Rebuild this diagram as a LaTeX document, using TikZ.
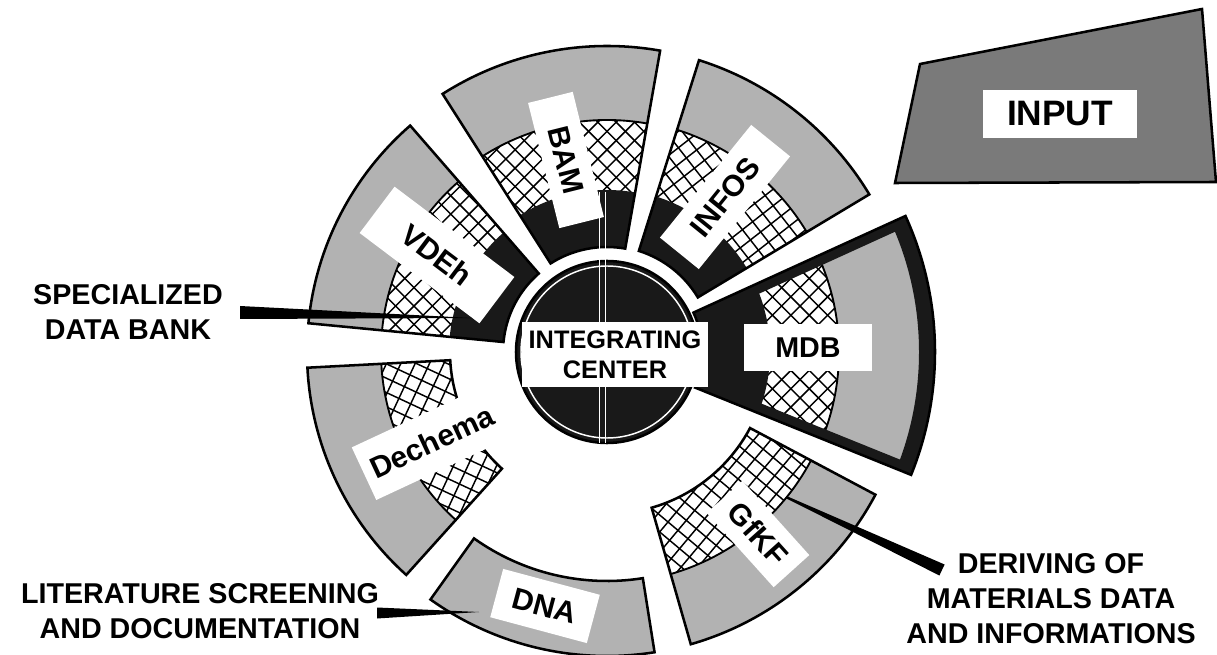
\documentclass[tikz,border=0pt]{standalone}
\usepackage{fontspec}
\setmainfont{Liberation Sans}
\usetikzlibrary{calc}
\newcommand\secpath[4]{(#1:#3) arc[start angle=#1,end angle=#2,radius=#3] -- (#2:#4) arc[start angle=#2,end angle=#1,radius=#4] -- cycle}
\newcommand\drawsector[7]{%
  \begin{scope}
    \clip \secpath{#1}{#2}{#3}{#6};
    \fill[dotfill] (0,0) circle[radius=#6];
    \begin{scope}
      \clip (0,0) circle[radius=#5];
      \fill[white] (0,0) circle[radius=#5];
      \begin{scope}[rotate=#7]
        \foreach \k in {-26,...,26}{
          \draw[gridline] (\k*13,-340) -- (\k*13,340);
          \draw[gridline] (-340,\k*13) -- (340,\k*13);
        }
      \end{scope}
    \end{scope}
    \fill[darkfill] (0,0) circle[radius=#4];
  \end{scope}}
\newcommand\ringarc[3]{\draw[bline] (#1:#3) arc[start angle=#1,end angle=#2,radius=#3];}
\tikzset{
  outline/.style={draw=black, line width=1.9pt},
  bline/.style={draw=black, line width=1.4pt},
  dotfill/.style={fill=black!30},
  darkfill/.style={fill=black!90},
  gridline/.style={draw=black, line width=1.1pt},
  labelbox/.style={fill=white, inner sep=0pt, font=\bfseries\fontsize{22.5pt}{26pt}\selectfont},
  sidetext/.style={align=center, inner sep=0pt, anchor=north, font=\bfseries\fontsize{21.5pt}{26.25pt}\selectfont},
  leader/.style={fill=black},
}
\begin{document}
\begin{tikzpicture}[x=0.75pt,y=-0.75pt]
\useasboundingbox (0,0) rectangle (1217,655);
\fill[white] (0,0) rectangle (1217,655);

% ---------- wheel ----------
\begin{scope}[shift={(607,352)}, yscale=-1]
  % MDB
  \drawsector{-22}{24.5}{95}{163}{232}{328}{45}
  \begin{scope}
    \clip \secpath{-22}{24.5}{95}{328};
    \ringarc{-22}{24.5}{232}
    \fill[darkfill, even odd rule] (0,0) circle[radius=330] (0,0) circle[radius=312];
    \draw[draw=black!90, line width=15pt] (-22:95) -- (-22:335) (24.5:95) -- (24.5:335);
  \end{scope}
  \draw[outline] \secpath{-22}{24.5}{95}{328};
  % INFOS
  \drawsector{31}{72.5}{106}{163}{233}{306}{52}
  \ringarc{31}{72.5}{233}
  \draw[outline] \secpath{31}{72.5}{106}{306};
  % BAM
  \drawsector{80}{122.5}{105}{162}{232}{306}{45}
  \ringarc{80}{122.5}{232}
  \draw[outline] \secpath{80}{122.5}{105}{306};
  % VDEh
  \drawsector{131}{174.5}{104}{158}{226}{300}{45}
  \ringarc{131}{174.5}{226}
  \draw[outline] \secpath{131}{174.5}{104}{300};
  % Dechema
  \drawsector{183}{228}{157}{1}{226}{300}{25}
  \ringarc{183}{228}{226}
  \draw[outline] \secpath{183}{228}{157}{300};
  % DNA
  \drawsector{234.5}{279}{229}{1}{1}{304}{0}
  \draw[outline] \secpath{234.5}{279}{229}{304};
  % GfKF
  \drawsector{286}{332}{162}{1}{231}{304}{-50}
  \ringarc{286}{332}{231}
  \draw[outline] \secpath{286}{332}{162}{304};
\end{scope}

% ---------- integrating center ----------
\fill[darkfill] (607,352) circle[radius=91];
\draw[white, line width=1.1pt] (607,352) circle[radius=86];
\draw[outline] (607,352) circle[radius=91];
\draw[white, line width=1.1pt] (599.5,192) -- (599.5,443);
\draw[white, line width=1.1pt] (605.5,192) -- (605.5,443);

% ---------- labels ----------
\node[labelbox, rotate=-76, minimum width=96.75pt, minimum height=34.5pt] (bam) at (566,160) {BAM};
\node[labelbox, rotate=51, minimum width=108.75pt, minimum height=37.5pt] (infos) at (725,197) {INFOS};
\node[labelbox, rotate=-37, minimum width=112.5pt, minimum height=43.5pt] (vdeh) at (437,255) {VDEh};
\node[labelbox, font=\bfseries\fontsize{21.5pt}{26pt}\selectfont, minimum width=96pt, minimum height=35.25pt] (mdb) at (808,348) {MDB};
\node[labelbox, rotate=25, minimum width=112.5pt, minimum height=43.5pt] (dechema) at (432,442) {Dechema};
\node[labelbox, rotate=-48, minimum width=75pt, minimum height=36pt] (gfkf) at (758,534) {GfKF};
\node[labelbox, rotate=-15, minimum width=75pt, minimum height=37.5pt] (dna) at (545,606) {DNA};
\node[labelbox, align=center, font=\bfseries\fontsize{19pt}{22.5pt}\selectfont, minimum width=139.5pt, minimum height=48.75pt] (center) at (615,355) {INTEGRATING\\CENTER};

% ---------- input ----------
\draw[outline, fill=black!52] (920,64) -- (1202,9) -- (1216,182) -- (895,183) -- cycle;
\node[labelbox, font=\bfseries\fontsize{26.5pt}{30pt}\selectfont, minimum width=115.5pt, minimum height=36pt] (input) at (1060,114) {INPUT};

% ---------- side texts and leaders ----------
\node[sidetext] (sdb) at (128,284) {SPECIALIZED\\DATA BANK};
\node[sidetext] (lit) at (200,583) {LITERATURE SCREENING\\AND DOCUMENTATION};
\node[sidetext] (der) at (1051,553) {DERIVING OF\\MATERIALS DATA\\AND INFORMATIONS};

\coordinate (sdbEnd) at (240,312.5);
\coordinate (sdbTip) at (472,318);
\fill[leader] ($(sdbEnd)+(0,-6.5)$) -- (sdbTip) -- ($(sdbEnd)+(0,6.5)$) -- cycle;

\coordinate (litEnd) at (377,613);
\coordinate (litTip) at (479,612);
\fill[leader] ($(litEnd)+(0,-5.5)$) -- (litTip) -- ($(litEnd)+(0,5.5)$) -- cycle;

\coordinate (derTip) at (786,497);
\coordinate (derEnd) at (942,570);
\fill[leader] ($(derTip)+(-0.5,1)$) -- ($(derEnd)+(-2.6,5.5)$) -- ($(derEnd)+(2.6,-5.5)$) -- ($(derTip)+(0.5,-1)$) -- cycle;
\end{tikzpicture}
\end{document}
